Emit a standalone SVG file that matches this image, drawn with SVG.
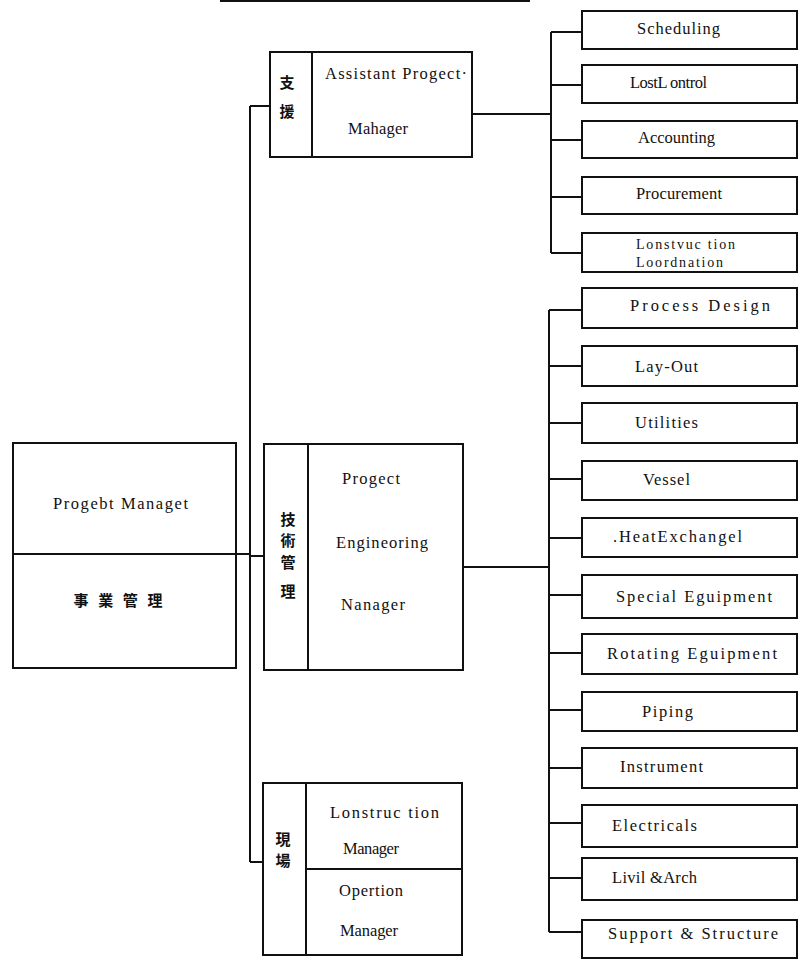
<svg xmlns="http://www.w3.org/2000/svg" width="799" height="960" viewBox="0 0 799 960">
<style>
.box{fill:#fff;stroke:#111;stroke-width:2}
.ln{fill:none;stroke:#111;stroke-width:2}
.t{font-family:"Liberation Serif","Noto Sans CJK JP",serif;font-size:16.5px;fill:#111}
.s{font-size:14px}
.c{font-family:"Noto Sans CJK JP","Noto Sans CJK TC",serif;font-size:15px;font-weight:bold;fill:#111;text-anchor:middle}
</style>
<rect width="799" height="960" fill="#fff"/>
<line class="ln" x1="220" y1="1" x2="530" y2="1" stroke-width="3"/>
<g id="connectors">
<path class="ln" d="M250 106 V862"/>
<path class="ln" d="M250 106 H270 M236 554 H250 M250 556 H264 M250 862 H263"/>
<path class="ln" d="M472 114 H551 M551 32 V253 M551 32 H582 M551 85 H582 M551 140 H582 M551 197 H582 M551 253 H582"/>
<path class="ln" d="M463 567 H549 M549 310 V932 M549 310 H582 M549 366 H582 M549 423 H582 M549 479 H582 M549 538 H582 M549 595 H582 M549 653 H582 M549 710 H582 M549 768 H582 M549 823 H582 M549 878 H582 M549 932 H582"/>
</g>
<g id="pm">
<rect class="box" x="13" y="443" width="223" height="225"/>
<line class="ln" x1="13" y1="554" x2="236" y2="554"/>
<text class="t" x="53" y="509" textLength="135" lengthAdjust="spacing">Progebt Managet</text>
<text class="c" x="118" y="606" textLength="89" lengthAdjust="spacing">事業管理</text>
</g>
<g id="apm">
<rect class="box" x="270" y="52" width="202" height="105"/>
<line class="ln" x1="312" y1="52" x2="312" y2="157"/>
<text class="c" x="287" y="88">支</text>
<text class="c" x="287" y="117">援</text>
<text class="t" x="325" y="79" textLength="142" lengthAdjust="spacing">Assistant Progect·</text>
<text class="t" x="348" y="134" textLength="60" lengthAdjust="spacing">Mahager</text>
</g>
<g id="pem">
<rect class="box" x="264" y="444" width="199" height="226"/>
<line class="ln" x1="308" y1="444" x2="308" y2="670"/>
<text class="c" x="288" y="525">技</text>
<text class="c" x="288" y="546">術</text>
<text class="c" x="288" y="568">管</text>
<text class="c" x="288" y="597">理</text>
<text class="t" x="342" y="484" textLength="58" lengthAdjust="spacing">Progect</text>
<text class="t" x="336" y="548" textLength="92" lengthAdjust="spacing">Engineoring</text>
<text class="t" x="341" y="610" textLength="64" lengthAdjust="spacing">Nanager</text>
</g>
<g id="site">
<rect class="box" x="263" y="783" width="199" height="172"/>
<line class="ln" x1="306" y1="783" x2="306" y2="955"/>
<line class="ln" x1="306" y1="869" x2="462" y2="869"/>
<text class="c" x="283" y="845">現</text>
<text class="c" x="283" y="866">場</text>
<text class="t" x="330" y="818" textLength="109" lengthAdjust="spacing">Lonstruc tion</text>
<text class="t" x="343" y="854" textLength="56" lengthAdjust="spacing">Manager</text>
<text class="t" x="339" y="896" textLength="64" lengthAdjust="spacing">Opertion</text>
<text class="t" x="340" y="936" textLength="58" lengthAdjust="spacing">Manager</text>
</g>
<g id="scheduling"><rect class="box" x="582" y="11" width="215" height="38"/><text class="t" x="637" y="34" textLength="83" lengthAdjust="spacing">Scheduling</text></g>
<g id="costcontrol"><rect class="box" x="582" y="65" width="215" height="38"/><text class="t" x="630" y="88" textLength="77" lengthAdjust="spacing">LostL ontrol</text></g>
<g id="accounting"><rect class="box" x="582" y="121" width="215" height="37"/><text class="t" x="638" y="143" textLength="77" lengthAdjust="spacing">Accounting</text></g>
<g id="procurement"><rect class="box" x="582" y="177" width="215" height="37"/><text class="t" x="636" y="199" textLength="86" lengthAdjust="spacing">Procurement</text></g>
<g id="constcoord"><rect class="box" x="582" y="233" width="215" height="39"/><text class="t s" x="636" y="249" textLength="99" lengthAdjust="spacing">Lonstvuc tion</text><text class="t s" x="636" y="267" textLength="87" lengthAdjust="spacing">Loordnation</text></g>
<g id="process"><rect class="box" x="582" y="288" width="215" height="40"/><text class="t" x="630" y="311" textLength="140" lengthAdjust="spacing">Process  Design</text></g>
<g id="layout"><rect class="box" x="582" y="346" width="215" height="40"/><text class="t" x="635" y="372" textLength="63" lengthAdjust="spacing">Lay-Out</text></g>
<g id="utilities"><rect class="box" x="582" y="403" width="215" height="40"/><text class="t" x="635" y="428" textLength="63" lengthAdjust="spacing">Utilities</text></g>
<g id="vessel"><rect class="box" x="582" y="461" width="215" height="39"/><text class="t" x="643" y="485" textLength="47" lengthAdjust="spacing">Vessel</text></g>
<g id="heatex"><rect class="box" x="582" y="518" width="215" height="39"/><text class="t" x="613" y="542" textLength="129" lengthAdjust="spacing">.HeatExchangel</text></g>
<g id="special"><rect class="box" x="582" y="575" width="215" height="43"/><text class="t" x="616" y="602" textLength="156" lengthAdjust="spacing">Special Eguipment</text></g>
<g id="rotating"><rect class="box" x="582" y="634" width="215" height="40"/><text class="t" x="607" y="659" textLength="170" lengthAdjust="spacing">Rotating  Eguipment</text></g>
<g id="piping"><rect class="box" x="582" y="692" width="215" height="39"/><text class="t" x="642" y="717" textLength="51" lengthAdjust="spacing">Piping</text></g>
<g id="instrument"><rect class="box" x="582" y="748" width="215" height="40"/><text class="t" x="620" y="772" textLength="83" lengthAdjust="spacing">Instrument</text></g>
<g id="electricals"><rect class="box" x="582" y="805" width="215" height="42"/><text class="t" x="612" y="831" textLength="85" lengthAdjust="spacing">Electricals</text></g>
<g id="civil"><rect class="box" x="582" y="858" width="215" height="42"/><text class="t" x="612" y="883" textLength="85" lengthAdjust="spacing">Livil &amp;Arch</text></g>
<g id="support"><rect class="box" x="582" y="920" width="215" height="38"/><text class="t" x="608" y="939" textLength="170" lengthAdjust="spacing">Support &amp; Structure</text></g>
</svg>
